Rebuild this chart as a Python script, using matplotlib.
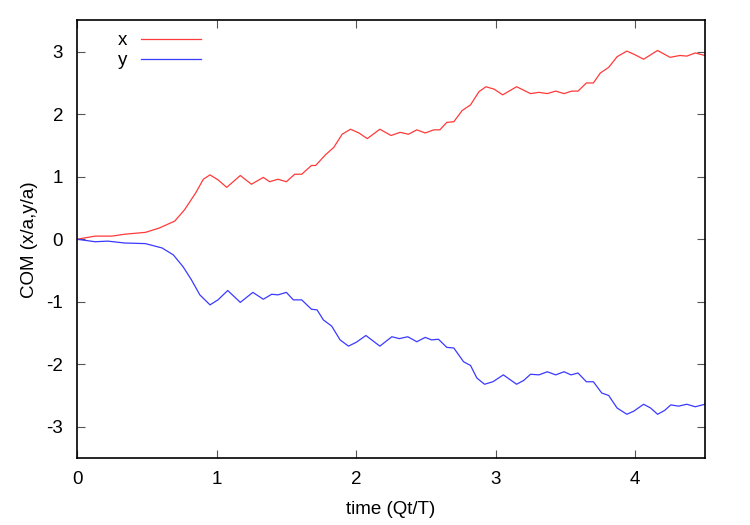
import matplotlib
matplotlib.use("Agg")
import matplotlib.pyplot as plt

plt.rcParams['font.family'] = ['Liberation Sans', 'DejaVu Sans']
plt.rcParams['axes.unicode_minus'] = False

# centro de massa
t_x = [0, 0.13, 0.25, 0.34, 0.49, 0.59, 0.70, 0.77, 0.85, 0.905, 0.953, 1.01, 1.073,
       1.17, 1.25, 1.335, 1.38, 1.44, 1.50, 1.56, 1.61, 1.68, 1.71, 1.78, 1.84, 1.90,
       1.96, 2.02, 2.08, 2.17, 2.25, 2.315, 2.375, 2.435, 2.495, 2.555, 2.60, 2.65,
       2.70, 2.76, 2.82, 2.88, 2.93, 2.99, 3.05, 3.15, 3.25, 3.31, 3.37, 3.43, 3.49,
       3.545, 3.59, 3.65, 3.70, 3.75, 3.81, 3.87, 3.94, 4.0, 4.06, 4.16, 4.25, 4.32,
       4.37, 4.43, 4.5]
com_x = [0, 0.05, 0.05, 0.08, 0.11, 0.18, 0.29, 0.47, 0.74, 0.96, 1.03, 0.95, 0.83,
         1.02, 0.88, 0.99, 0.92, 0.96, 0.92, 1.04, 1.04, 1.18, 1.18, 1.35, 1.47, 1.68,
         1.76, 1.70, 1.61, 1.76, 1.66, 1.71, 1.68, 1.75, 1.70, 1.75, 1.75, 1.87,
         1.88, 2.06, 2.15, 2.36, 2.44, 2.40, 2.31, 2.44, 2.33, 2.35, 2.33, 2.37, 2.33,
         2.37, 2.37, 2.50, 2.50, 2.66, 2.75, 2.92, 3.01, 2.95, 2.88, 3.02, 2.91, 2.94,
         2.93, 2.98, 2.94]

t_y = [0, 0.13, 0.22, 0.34, 0.49, 0.61, 0.69, 0.76, 0.82, 0.88, 0.953, 1.01, 1.08,
       1.17, 1.26, 1.335, 1.395, 1.44, 1.50, 1.55, 1.61, 1.68, 1.72, 1.765, 1.825,
       1.885, 1.945, 2.0, 2.07, 2.17, 2.256, 2.31, 2.37, 2.435, 2.495, 2.54, 2.59,
       2.65, 2.70, 2.77, 2.82, 2.865, 2.92, 2.98, 3.055, 3.15, 3.20, 3.25, 3.31, 3.37,
       3.43, 3.49, 3.54, 3.59, 3.65, 3.70, 3.76, 3.81, 3.87, 3.94, 3.99, 4.06, 4.11,
       4.16, 4.21, 4.255, 4.31, 4.37, 4.43, 4.5]
com_y = [0, -0.04, -0.03, -0.06, -0.07, -0.14, -0.25, -0.44, -0.65, -0.89, -1.05, -0.97, -0.82,
         -1.01, -0.85, -0.96, -0.88, -0.89, -0.85, -0.97, -0.97, -1.12, -1.13, -1.29, -1.39,
         -1.61, -1.71, -1.65, -1.54, -1.71, -1.56, -1.59, -1.56, -1.64, -1.57, -1.61, -1.60,
         -1.73, -1.74, -1.96, -2.02, -2.22, -2.32, -2.28, -2.17, -2.32, -2.26, -2.16, -2.17, -2.12,
         -2.17, -2.12, -2.17, -2.14, -2.28, -2.28, -2.46, -2.50, -2.70, -2.80, -2.75, -2.64, -2.70,
         -2.80, -2.74, -2.65, -2.67, -2.64, -2.68, -2.64]

xticks = [0, 1, 2, 3, 4]
yticks = [-3, -2, -1, 0, 1, 2, 3]

fig = plt.figure(figsize=(7.5, 5.25), dpi=100)
ax = fig.add_axes([0.1027, 0.1276, 0.8373, 0.8334])

ax.plot(t_x, com_x, color='#ff3a3a', lw=0.9, label='x', solid_joinstyle='round')
ax.plot(t_y, com_y, color='#3a3aff', lw=0.9, label='y', solid_joinstyle='round')

ax.set_xlim(0, 4.5)
ax.set_ylim(-3.5, 3.5)
ax.set_xticks(xticks)
ax.set_yticks(yticks)
ax.tick_params(direction='in', length=6, width=0.8, top=True, right=True,
               labelsize=13.5, color='#555555')
ax.tick_params(axis='x', pad=9)
ax.tick_params(axis='y', pad=10)
for s in ax.spines.values():
    s.set_linewidth(1.2)

ax.set_xlabel("time (Qt/T)", fontsize=13.5, labelpad=10)
ax.set_ylabel("COM (x/a,y/a)", fontsize=13.5, labelpad=6)

ax.legend(loc='upper left', bbox_to_anchor=(0.038, 1.012), frameon=False,
          markerfirst=False, handlelength=3.2, handletextpad=0.75,
          labelspacing=0.15, fontsize=13.5)

plt.savefig("out.png", dpi=100)
